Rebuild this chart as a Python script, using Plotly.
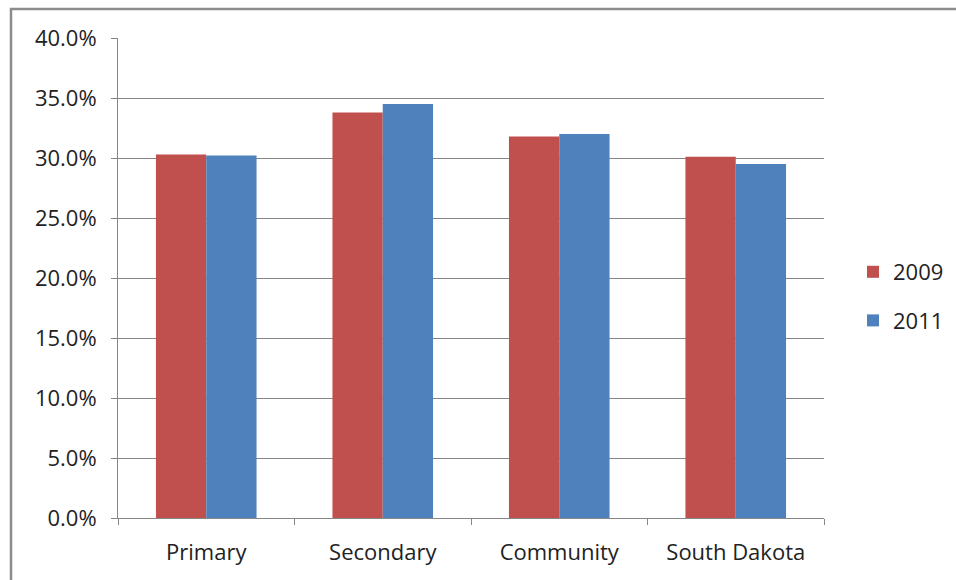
import plotly.graph_objects as go

categories = ["Primary", "Secondary", "Community", "South Dakota"]
series_names = ["2009", "2011"]
values_2009 = [30.3, 33.8, 31.8, 30.1]
values_2011 = [30.2, 34.5, 32.0, 29.5]
colors = ["#C0504D", "#4F81BD"]
y_ticks = [0, 5, 10, 15, 20, 25, 30, 35, 40]

W, H = 956, 580
L, R, T, B = 118, 132, 38, 62
pw, ph = W - L - R, H - T - B

fig = go.Figure()
for name, vals, col in zip(series_names, [values_2009, values_2011], colors):
    fig.add_trace(go.Bar(x=categories, y=vals, name=name, legendgroup=name,
                         marker=dict(color=col, line=dict(width=0))))

font = "'Open Sans', sans-serif"
txt = "#222222"
fs = 22
fig.update_layout(
    width=W, height=H,
    margin=dict(l=L, r=R, t=T, b=B, pad=0, autoexpand=False),
    paper_bgcolor="white", plot_bgcolor="white",
    barmode="group", bargap=0.43, bargroupgap=0,
    font=dict(family=font, size=fs, color=txt),
    showlegend=True,
    legend=dict(xref="container", yref="container",
                x=853 / W, y=1 - 251 / H, xanchor="left", yanchor="top",
                font=dict(size=fs, color=txt), itemwidth=30, tracegroupgap=17,
                bgcolor="rgba(0,0,0,0)"),
    xaxis=dict(type="category", tickson="boundaries", ticks="outside", ticklen=6,
               tickcolor="#868686", showline=True, linecolor="#868686", linewidth=1,
               showgrid=False, tickfont=dict(size=fs, color=txt), ticklabelstandoff=15),
    yaxis=dict(range=[0, 40], tickvals=y_ticks, ticktext=[f"{v:.1f}%" for v in y_ticks],
               ticks="outside", ticklen=6, tickcolor="#868686",
               showline=True, linecolor="#868686", linewidth=1,
               showgrid=True, gridcolor="#868686", gridwidth=1,
               zeroline=False, tickfont=dict(size=fs, color=txt), ticklabelstandoff=10),
)

# outer chart frame (partially clipped by the page, as in the source document)
fig.add_shape(type="rect", xref="paper", yref="paper",
              x0=(11 - L) / pw, x1=(W + 20 - L) / pw,
              y0=(518 - (H + 20)) / ph, y1=(518 - 9) / ph,
              line=dict(color="#8c8c8c", width=2.5), fillcolor="rgba(0,0,0,0)", layer="below")

fig.write_html("out.html")
